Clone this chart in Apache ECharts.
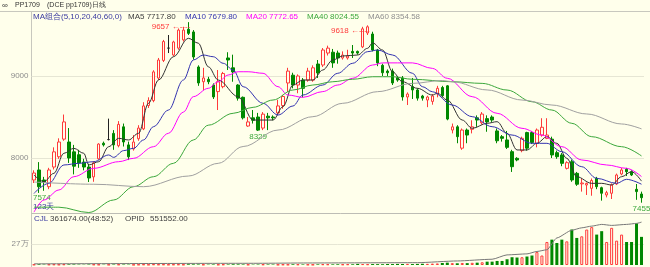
<!DOCTYPE html>
<html><head><meta charset="utf-8">
<script src="https://cdn.jsdelivr.net/npm/echarts@6/dist/echarts.min.js"></script>
<style>html,body{margin:0;padding:0;background:#FFFFEB;}#c{width:650px;height:267px;}</style>
</head><body><div id="c"></div>
<script>
// ---- data ----
const opens = [7732,7854,7732,7650,7890,8015,8230,8195,8075,8040,7950,7890,7770,7990,8180,8225,8300,8150,8380,8160,8110,8235,8355,8640,8700,8975,9190,9340,9256,9340,9440,9570,9537,9110,8930,8960,8890,8810,8870,9220,9100,8890,8740,8390,8490,8500,8365,8510,8500,8550,8640,8915,9010,8890,8950,8950,8950,9146,9134,9280,9290,9280,9220,9220,9300,9300,9355,9525,9512,9317,9130,9060,9060,8980,8976,8744,8870,8830,8756,8707,8690,8780,8860,8880,8341,8380,8120,8341,8350,8490,8430,8480,8500,8330,8260,8220,8077,7996,8090,8310,8310,8180,8280,8240,8230,8065,8037,7874,7955,7813,7685,7671,7630,7752,7638,7549,7570,7683,7805,7862,7833,7618,7561];
const closes = [7817,7650,7710,7854,8075,8195,8440,8000,7900,7940,7890,7756,7940,8170,8160,8225,8160,8410,8195,8015,8195,8365,8635,8700,9050,9195,9420,9340,9415,9560,9560,9520,9232,8915,8976,8930,8745,8930,9030,9195,9050,8730,8490,8440,8460,8340,8535,8490,8490,8635,8750,9060,8890,9000,8850,9060,9100,9037,9317,9340,9160,9220,9256,9245,9280,9280,9575,9600,9317,9160,9040,9040,8915,8950,8744,8780,8830,8730,8730,8744,8756,8850,8760,8475,8380,8260,8341,8280,8380,8463,8536,8440,8463,8210,8240,8130,7894,7976,8240,8120,8190,8341,8375,8280,8037,8016,7935,7943,7732,7680,7695,7690,7725,7650,7570,7577,7671,7793,7854,7833,7793,7590,7516];
const lows = [7695,7574,7600,7620,7860,7990,8210,7940,7800,7880,7850,7707,7710,7980,8140,8215,8100,8130,8140,7975,8090,8210,8340,8610,8680,8950,9170,9280,9240,9320,9420,9500,9200,8880,8830,8900,8720,8585,8850,9073,8930,8700,8470,8380,8420,8329,8340,8340,8460,8520,8600,8805,8850,8790,8740,8930,8930,8976,9110,9250,9100,9150,9200,9200,9220,9260,9340,9500,9300,9120,9000,9000,8890,8930,8700,8646,8720,8700,8700,8620,8650,8740,8740,8460,8300,8180,8100,8180,8300,8380,8410,8320,8440,8180,8200,8110,7830,7960,8070,8090,8170,8130,8260,8230,8000,7990,7900,7860,7710,7660,7590,7549,7540,7620,7480,7520,7500,7670,7790,7780,7780,7490,7455];
const highs = [7850,7950,7770,7880,8130,8240,8530,8365,8160,8100,7990,7930,7960,8180,8200,8480,8340,8450,8420,8200,8280,8400,8680,8740,9070,9220,9440,9500,9430,9580,9600,9657,9560,9130,9100,8990,8910,9073,9050,9290,9260,8900,8750,8500,8585,8550,8560,8550,8520,8710,8770,9100,9040,9020,8975,9100,9130,9195,9341,9370,9330,9310,9300,9320,9378,9310,9600,9618,9540,9330,9150,9080,9090,9000,9000,8800,8976,8850,8770,8760,8780,8880,8880,8890,8420,8400,8360,8360,8460,8520,8560,8520,8520,8360,8280,8330,8100,8010,8260,8320,8330,8360,8485,8485,8260,8090,8060,7960,7980,7830,7752,7700,7750,7770,7650,7600,7690,7810,7880,7880,7850,7683,7590];
const volumes = [6000,9000,5000,7000,8000,6000,9000,8000,7000,5000,4000,6000,7000,6000,4000,5000,6000,7000,6000,5000,4000,6000,8000,5000,9000,7000,8000,6000,7000,8000,6000,
9000,8000,7000,6000,5000,7000,6000,8000,7000,9000,8000,7000,6000,5000,6000,8000,7000,6000,5000,7000,6000,9000,8000,7000,6000,5000,8000,10000,9000,8000,
9000,8000,10000,9000,14000,12000,10000,12000,11000,10000,13000,12000,14000,13000,15000,12000,14000,16000,15000,18000,
20000,26000,30000,24000,22000,26000,24000,28000,30000,35000,
43000,43000,52000,52000,74000,100000,96000,100000,109000,122000,166000,122000,296000,326000,283000,326000,304000,456000,348000,369000,456000,487000,391000,435000,296000,478000,313000,391000,296000,296000,535000,361674];
// open interest, read at [day index, value]
const openInterest = [[0,15000],[45,22000],[55,26000],[77,30000],[85,52000],[92,74000],[95,130000],[99,143000],[101,174000],[103,196000],[105,348000],[108,447000],[110,478000],[112,500000],[114,522000],[116,509000],[119,522000],[121,535000],[122,551552]];
// moving averages, read at [day index, value]
const ma5 = [[0,7793],[2,7711],[4,7813],[6,8057],[8,8118],[10,8057],[11,7915],[13,7955],[15,8138],[17,8240],[19,8220],[21,8301],[23,8667],[25,8951],[28,9235],[31,9460],[33,9400],[35,9113],[37,8951],[41,8748],[44,8463],[46,8463],[48,8463],[50,8626],[52,8890],[54,8951],[56,8951],[58,9073],[60,9195],[62,9244],[65,9256],[67,9338],[68,9403],[70,9317],[72,9052],[74,8930],[77,8850],[80,8768],[81,8789],[83,8707],[86,8463],[88,8362],[91,8423],[93,8443],[95,8301],[97,8098],[99,8098],[101,8179],[103,8260],[105,8179],[107,7996],[109,7772],[112,7691],[114,7691],[116,7671],[118,7772],[120,7833],[122,7718]];
const ma10 = [[0,7569],[3,7691],[6,7915],[9,7935],[12,7955],[15,8037],[16,8008],[18,8090],[20,8118],[22,8220],[24,8382],[27,8585],[30,8951],[32,9195],[34,9256],[36,9235],[38,9155],[40,9073],[42,8870],[46,8667],[49,8524],[52,8634],[54,8768],[58,8890],[61,9033],[64,9155],[67,9297],[69,9317],[72,9256],[76,9033],[78,8870],[80,8808],[84,8646],[88,8504],[92,8382],[96,8280],[100,8179],[103,8179],[106,8077],[110,7894],[113,7752],[117,7691],[119,7740],[122,7680]];
const ma20 = [[0,7340],[2,7488],[5,7610],[8,7772],[12,7874],[17,7955],[20,7996],[24,8138],[27,8301],[30,8560],[32,8748],[35,8850],[37,8930],[39,9012],[41,9052],[43,9052],[46,9033],[49,8870],[51,8768],[54,8740],[58,8810],[61,8890],[64,8972],[68,9134],[70,9160],[76,9160],[80,9093],[83,8972],[88,8748],[93,8545],[98,8362],[102,8280],[106,8138],[110,7976],[115,7915],[119,7874],[122,7773]];
const ma40 = [[0,7400],[5,7400],[11,7335],[16,7488],[20,7650],[24,7772],[28,7935],[32,8220],[35,8400],[40,8545],[44,8618],[48,8707],[52,8829],[56,8890],[60,8930],[64,8960],[68,8991],[72,8991],[76,8960],[84,8930],[90,8910],[95,8829],[100,8686],[104,8585],[108,8423],[112,8260],[118,8138],[122,8025]];
const ma60 = [[0,7707],[12,7680],[22,7650],[31,7780],[37,7935],[42,8140],[49,8341],[56,8504],[62,8667],[69,8809],[76,8910],[82,8945],[84,8930],[91,8830],[98,8707],[104,8646],[111,8537],[118,8415],[122,8355]];
const priceTicks = [8000, 9000];
const volumeTick = 270000;
const volumeTickLabel = '27万';
const maNames = ['MA5','MA10','MA20','MA40','MA60'];
const maLast = ['7717.80','7679.80','7772.65','8024.55','8354.58'];
const highMarks = [[31, 9657], [67, 9618]];
const lowMarks = [[1, 7574], [45, 8329], [122, 7455]];
const dayCount = '123天';
const cjlText = ['CJL', '361674.00(48:52)', 'OPID', '551552.00'];

// ---- styles ----
const BG = '#FFFFEB', UP = '#FF3A3A', DOWN = '#008800', GRID = '#E6E6D4';
const maColors = ['#333333','#3333B0','#FF00FF','#3CA83C','#A0A0A0'];
const FONT = 'Liberation Sans, Arial, sans-serif';

const categories = opens.map((_, i) => String(i + 1));
const candleData = opens.map((o, i) => [o, closes[i], lows[i], highs[i]]);
const volData = volumes.map((v, i) => ({
  value: v,
  itemStyle: closes[i] >= opens[i] ? {color: BG, borderColor: UP, borderWidth: 1} : {color: DOWN, borderColor: DOWN, borderWidth: 0}
}));

const chart = echarts.init(document.getElementById('c'));
const maSeries = [ma5, ma10, ma20, ma40, ma60].map((d, k) => ({
  type: 'line', name: maNames[k], xAxisIndex: 0, yAxisIndex: 0, data: d,
  showSymbol: false, smooth: 0.35, smoothMonotone: 'x', z: 5,
  lineStyle: {width: 1, color: maColors[k]}, silent: true
}));

const txt = (x, y, t, color, size, extra) => Object.assign({
  type: 'text', x: x, y: y, silent: true,
  style: {text: t, fill: color, font: (size || 8) + 'px ' + FONT, textVerticalAlign: 'middle'}
}, extra || {});

chart.setOption({
  backgroundColor: BG,
  animation: false,
  grid: [
    {left: 31.5, right: 6, top: 2.2, height: 237.8},
    {left: 31.5, right: 6, top: 202, height: 63}
  ],
  xAxis: [
    {type: 'category', data: categories, gridIndex: 0, show: false},
    {type: 'category', data: categories, gridIndex: 1, show: false}
  ],
  yAxis: [
    {type: 'value', gridIndex: 0, min: 7000, max: 9900, interval: 1000,
     splitLine: {show: false}, axisLine: {show: false}, axisTick: {show: false},
     axisLabel: {formatter: v => priceTicks.includes(v) ? String(v) : '', color: '#8C8C8C', fontSize: 8, margin: 3, fontFamily: FONT}},
    {type: 'value', gridIndex: 1, min: 0, max: 810000, interval: 270000,
     splitLine: {show: false}, axisLine: {show: false}, axisTick: {show: false},
     axisLabel: {formatter: v => v === volumeTick ? volumeTickLabel : '', color: '#8C8C8C', fontSize: 8, margin: 3, fontFamily: FONT}}
  ],
  series: [
    {
      type: 'candlestick', name: 'pp1709', xAxisIndex: 0, yAxisIndex: 0, data: candleData,
      barWidth: 3, z: 3,
      itemStyle: {color: BG, color0: DOWN, borderColor: UP, borderColor0: DOWN, borderColorDoji: '#222', borderWidth: 1},
      markLine: {silent: true, symbol: 'none', label: {show: false}, z: 1,
        lineStyle: {color: GRID, type: 'solid', width: 1},
        data: priceTicks.map(v => ({yAxis: v}))},
      markPoint: {silent: true, symbol: 'circle', symbolSize: 0,
        data: highMarks.map(([i, v]) => ({coord: [i, v], value: v,
          label: {show: true, formatter: v + ' ←‑‑‑‑', color: UP, fontSize: 8, fontFamily: FONT,
            position: 'inside', align: 'right', verticalAlign: 'middle', offset: [2, 5]}}))
          .concat(lowMarks.map(([i, v], k) => ({coord: [i, v], value: v,
          label: {show: true, formatter: String(v), color: '#3CA83C', fontSize: 8, fontFamily: FONT,
            position: 'inside', align: k === 0 ? 'left' : 'center', verticalAlign: 'top', offset: k === 0 ? [-6, 1] : [0, 2]}})))
      }
    },
    ...maSeries,
    {
      type: 'bar', name: 'CJL', xAxisIndex: 1, yAxisIndex: 1, data: volData, barWidth: 3, z: 3,
      markLine: {silent: true, symbol: 'none', label: {show: false}, z: 1,
        lineStyle: {color: GRID, type: 'solid', width: 1},
        data: [{yAxis: volumeTick}]}
    },
    {
      type: 'line', name: 'OPID', xAxisIndex: 1, yAxisIndex: 1, data: openInterest,
      showSymbol: false, smooth: 0.2, smoothMonotone: 'x', z: 5, silent: true,
      lineStyle: {width: 1, color: '#777777'}
    }
  ],
  graphic: [
    {type: 'line', silent: true, shape: {x1: 0, y1: 11.5, x2: 650, y2: 11.5}, style: {stroke: '#C8C8BE', lineWidth: 1}},
    {type: 'line', silent: true, shape: {x1: 31.5, y1: 11, x2: 31.5, y2: 267}, style: {stroke: '#C8C8BE', lineWidth: 1}},
    {type: 'line', silent: true, shape: {x1: 31.5, y1: 213.5, x2: 650, y2: 213.5}, style: {stroke: '#BDBDB5', lineWidth: 1}},
    txt(2, 5.5, '∞', '#333', 8),
    txt(15, 5.5, 'PP1709', '#333', 7),
    txt(47, 5.5, '(DCE pp1709)日线', '#333', 7),
    txt(33, 16.5, 'MA组合(5,10,20,40,60,0)', '#3A3AA0', 8),
    txt(128, 16.5, maNames[0] + ' ' + maLast[0], '#404040', 8),
    txt(185, 16.5, maNames[1] + ' ' + maLast[1], maColors[1], 8),
    txt(246, 16.5, maNames[2] + ' ' + maLast[2], maColors[2], 8),
    txt(307, 16.5, maNames[3] + ' ' + maLast[3], maColors[3], 8),
    txt(368, 16.5, maNames[4] + ' ' + maLast[4], '#909090', 8),
    txt(33, 207, dayCount, '#3A3AA0', 8),
    txt(34, 218.5, cjlText[0], '#3A3AA0', 8),
    txt(50, 218.5, cjlText[1], '#404040', 8),
    txt(125, 218.5, cjlText[2], '#404040', 8),
    txt(150, 218.5, cjlText[3], '#404040', 8)
  ]
});
</script></body></html>
